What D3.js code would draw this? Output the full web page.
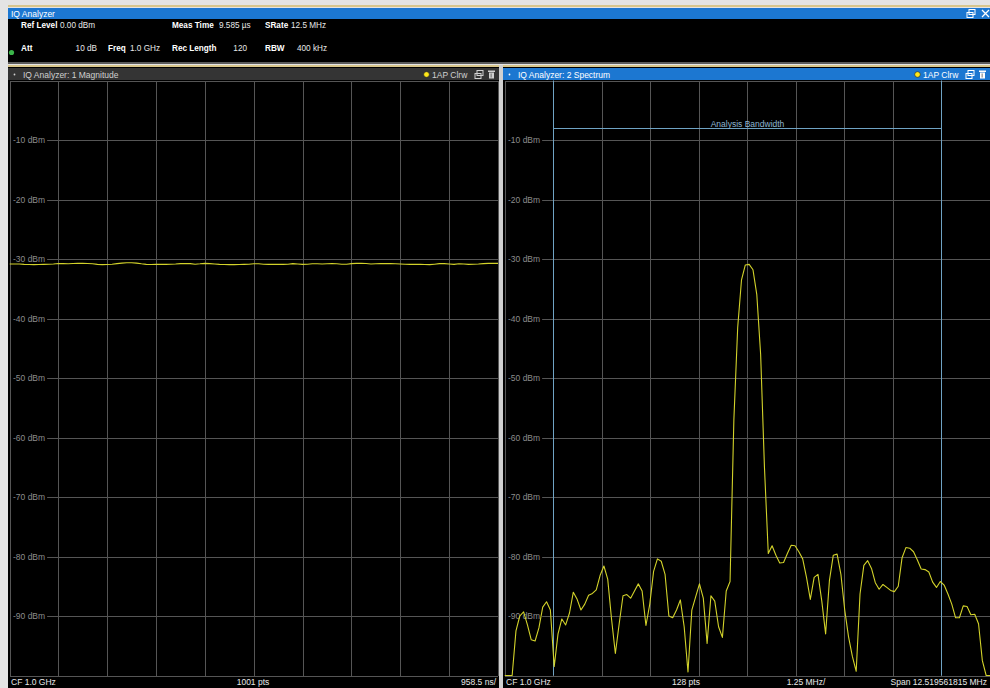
<!DOCTYPE html>
<html>
<head>
<meta charset="utf-8">
<script src="https://cdn.jsdelivr.net/npm/d3@7/dist/d3.min.js"></script>
<style>
  html, body { margin: 0; padding: 0; background: #000; }
  svg { display: block; font-family: "Liberation Sans", Arial, sans-serif; }
</style>
</head>
<body>
<svg id="chart" width="990" height="688"></svg>
<script>
// ---- Measurement settings shown in the header ----
const headerTitle = "IQ Analyzer";
const headerRow1 = [["Ref Level", "0.00 dBm"], ["Meas Time", "9.585 µs"], ["SRate", "12.5 MHz"]];
const headerRow2 = [["Att", "10 dB"], ["Freq", "1.0 GHz"], ["Rec Length", "120"], ["RBW", "400 kHz"]];

// ---- Window titles and footers ----
const magTitle = "IQ Analyzer: 1 Magnitude";
const specTitle = "IQ Analyzer: 2 Spectrum";
const traceTag = "1AP Clrw";
const magFooter = ["CF 1.0 GHz", "1001 pts", "958.5 ns/"];
const specFooter = ["CF 1.0 GHz", "128 pts", "1.25 MHz/", "Span 12.519561815 MHz"];
const bandwidthLabel = "Analysis Bandwidth";

// ---- Axes ----
const refLevel = 0;            // dBm, top of the display
const levelRange = 100;        // dB shown over 10 divisions
const levelTicks = [-10, -20, -30, -40, -50, -60, -70, -80, -90];
const levelTickLabels = ["-10 dBm", "-20 dBm", "-30 dBm", "-40 dBm", "-50 dBm", "-60 dBm", "-70 dBm", "-80 dBm", "-90 dBm"];
const timePerDiv = 0.9585;     // µs
const divisions = 10;
const spanMHz = 12.519561815;
const analysisBandwidthMHz = 10;

// ---- Trace 1: magnitude vs time (dBm), sampled along the record ----
const magnitudeDbm = [
  -30.84, -30.84, -30.84, -30.90, -30.92, -30.95, -30.92, -30.90, -30.87, -30.84,
  -30.76, -30.78, -30.81, -30.76, -30.73, -30.73, -30.76, -30.81, -30.90, -30.95,
  -30.92, -30.87, -30.78, -30.70, -30.64, -30.62, -30.70, -30.81, -30.90, -30.92,
  -30.87, -30.90, -30.90, -30.87, -30.84, -30.78, -30.78, -30.78, -30.87, -30.81,
  -30.73, -30.78, -30.84, -30.90, -30.92, -30.95, -30.95, -30.92, -30.90, -30.87,
  -30.81, -30.81, -30.87, -30.90, -30.90, -30.90, -30.90, -30.87, -30.78, -30.84,
  -30.90, -30.87, -30.81, -30.81, -30.84, -30.81, -30.78, -30.81, -30.87, -30.87,
  -30.78, -30.73, -30.73, -30.76, -30.84, -30.81, -30.78, -30.78, -30.78, -30.81,
  -30.84, -30.87, -30.90, -30.90, -30.90, -30.92, -30.95, -30.87, -30.78, -30.78,
  -30.84, -30.90, -30.81, -30.84, -30.90, -30.87, -30.84, -30.78, -30.73, -30.73,
  -30.73
];

// ---- Trace 2: spectrum, 128 points across the span (dBm) ----
const spectrumDbm = [
  -110, -110, -107, -92.5, -90.0, -89.3, -91.5, -94.0, -94.2, -92.0,
  -88.5, -87.6, -89.0, -98.5, -93.0, -90.5, -91.5, -89.5, -86.0, -87.2,
  -89.0, -88.0, -86.5, -86.2, -85.6, -83.2, -81.6, -83.8, -90.5, -96.3,
  -91.3, -86.6, -86.4, -87.0, -85.8, -84.6, -85.8, -91.6, -88.0, -82.5,
  -80.4, -80.8, -83.0, -90.0, -90.3, -89.0, -87.3, -91.8, -99.4, -89.0,
  -86.8, -84.6, -87.0, -94.6, -86.6, -87.5, -91.8, -93.6, -85.8, -84.2,
  -57.0, -41.5, -33.5, -31.0, -30.9, -31.8, -36.0, -46.0, -65.0, -79.5,
  -78.2, -79.8, -81.1, -81.0, -79.5, -78.1, -78.2, -79.2, -80.4, -83.5,
  -87.2, -83.5, -83.0, -87.5, -93.0, -84.0, -79.8, -79.6, -83.0, -89.0,
  -93.5, -96.8, -99.3, -86.3, -81.5, -80.7, -82.0, -84.4, -85.5, -84.7,
  -85.2, -85.7, -85.9, -85.0, -80.2, -78.5, -78.6, -79.2, -80.6, -82.1,
  -82.2, -82.6, -84.3, -85.2, -84.2, -84.8, -86.3, -88.0, -90.3, -90.3,
  -88.3, -88.4, -89.8, -89.7, -91.3, -97.5, -107, -110
];

// ---------------------------------------------------------------------------
const svg = d3.select("#chart");
const W = 990, H = 688;

const C = {
  blue: "#1c77d1",
  beige: "#d8c68c",
  frame: "#e4e4e4",
  titleGrey: "#343434",
  grid: "#555555",
  label: "#8c8c8c",
  text: "#e8e8e8",
  trace: "#d2d22a",
  bw: "#6fa3c4",
  bwText: "#8fb6d2"
};

// Window chrome
svg.append("rect").attr("width", W).attr("height", H).attr("fill", "#000");
svg.append("rect").attr("x", 0).attr("y", 0).attr("width", W).attr("height", 5).attr("fill", C.frame);
svg.append("rect").attr("x", 0).attr("y", 0).attr("width", 8).attr("height", H).attr("fill", C.frame);
svg.append("rect").attr("x", 8).attr("y", 5).attr("width", W - 8).attr("height", 2).attr("fill", C.beige);
svg.append("rect").attr("x", 8).attr("y", 7).attr("width", W - 8).attr("height", 1).attr("fill", C.frame);
svg.append("rect").attr("x", 8).attr("y", 8).attr("width", W - 8).attr("height", 11).attr("fill", C.blue);
svg.append("text").attr("x", 11).attr("y", 17).attr("font-size", 8.5).attr("fill", "#fff").text(headerTitle);

// restore / close icons in the header bar
function restoreIcon(g, x, y, color) {
  g.append("rect").attr("x", x + 2).attr("y", y).attr("width", 6).attr("height", 5)
    .attr("fill", "none").attr("stroke", color).attr("stroke-width", 1);
  g.append("rect").attr("x", x).attr("y", y + 3).attr("width", 6).attr("height", 5)
    .attr("fill", C.blue === color ? "none" : "none").attr("stroke", color).attr("stroke-width", 1);
}
function trashIcon(g, x, y, color) {
  g.append("rect").attr("x", x).attr("y", y).attr("width", 7).attr("height", 1.5).attr("fill", color);
  g.append("rect").attr("x", x + 1).attr("y", y + 2).attr("width", 5).attr("height", 6).attr("fill", color);
  g.append("rect").attr("x", x + 2.7).attr("y", y + 3).attr("width", 0.8).attr("height", 4).attr("fill", "#555");
}
const chrome = svg.append("g");
restoreIcon(chrome, 967, 9.5, "#fff");
chrome.append("path").attr("d", "M982,10 L989,17 M989,10 L982,17").attr("stroke", "#fff").attr("stroke-width", 1.3);

// Header settings
const hdr = svg.append("g").attr("font-size", 8.2).attr("fill", C.text);
function hdrItem(label, value, lx, vx, y, anchorEnd) {
  hdr.append("text").attr("x", lx).attr("y", y).attr("font-weight", "bold").attr("fill", "#fff").text(label);
  hdr.append("text").attr("x", vx).attr("y", y).attr("text-anchor", anchorEnd ? "end" : "start").text(value);
}
const row1Pos = [[21, 60, false], [172, 219, false], [265, 291, false]];
const row2Pos = [[21, 97, true], [108, 130, false], [172, 247, true], [265, 297, false]];
headerRow1.forEach((d, i) => hdrItem(d[0], d[1], row1Pos[i][0], row1Pos[i][1], 28, row1Pos[i][2]));
headerRow2.forEach((d, i) => hdrItem(d[0], d[1], row2Pos[i][0], row2Pos[i][1], 51, row2Pos[i][2]));
svg.append("circle").attr("cx", 11.5).attr("cy", 52.5).attr("r", 2.6).attr("fill", "#3bb54a");

// Separator between header and the two windows
svg.append("rect").attr("x", 8).attr("y", 62).attr("width", W - 8).attr("height", 2).attr("fill", "#5a5a5a");
svg.append("rect").attr("x", 8).attr("y", 64).attr("width", W - 8).attr("height", 1).attr("fill", C.frame);
svg.append("rect").attr("x", 8).attr("y", 65).attr("width", W - 8).attr("height", 2).attr("fill", C.beige);
svg.append("rect").attr("x", 499).attr("y", 65).attr("width", 4).attr("height", H - 65).attr("fill", "#d0d0d0");

// ---------------------------------------------------------------------------
// One measurement window: title bar, graticule, level labels, trace, footer
function drawWindow(opt) {
  const g = svg.append("g");
  const { x0, x1 } = opt;
  const top = 80.5, bottom = 675.5;

  // title bar
  g.append("rect").attr("x", opt.barX).attr("y", 68).attr("width", opt.barW).attr("height", 12)
    .attr("fill", opt.active ? C.blue : C.titleGrey);
  const titleColor = opt.active ? "#fff" : "#d0d0d0";
  g.append("circle").attr("cx", opt.barX + 6.5).attr("cy", 74.5).attr("r", 0.9).attr("fill", titleColor);
  g.append("text").attr("x", opt.barX + 15).attr("y", 77.5).attr("font-size", 8.5).attr("fill", titleColor).text(opt.title);
  const rx = opt.barX + opt.barW;
  g.append("circle").attr("cx", rx - 72.5).attr("cy", 74.5).attr("r", 2.8)
    .attr("fill", "#ffe81a").attr("stroke", "#222").attr("stroke-width", 0.6);
  g.append("text").attr("x", rx - 67).attr("y", 77.5).attr("font-size", 8.5).attr("fill", titleColor).text(traceTag);
  restoreIcon(g, rx - 24, 70.5, titleColor);
  trashIcon(g, rx - 11, 70.5, titleColor);

  // scales
  const x = d3.scaleLinear().domain(opt.xDomain).range([x0, x1]);
  const y = d3.scaleLinear().domain([refLevel - levelRange, refLevel]).range([bottom, top]).clamp(true);

  // graticule: vertical divisions
  const xDivs = d3.range(divisions + 1).map(i => opt.xDomain[0] + i * (opt.xDomain[1] - opt.xDomain[0]) / divisions);
  const gx = g.append("g").attr("transform", `translate(0,${bottom})`)
    .call(d3.axisBottom(x).tickValues(xDivs).tickSize(-(bottom - top)).tickFormat(""));
  gx.select(".domain").remove();
  gx.selectAll("line").attr("stroke", C.grid).attr("stroke-width", 1).attr("shape-rendering", "crispEdges");

  // graticule: horizontal levels (including frame top/bottom)
  const gy = g.append("g").attr("transform", `translate(${x0},0)`)
    .call(d3.axisLeft(y).tickValues(d3.range(0, -101, -10)).tickSize(-(x1 - x0)).tickFormat(""));
  gy.select(".domain").remove();
  gy.selectAll("line").attr("stroke", C.grid).attr("stroke-width", 1).attr("shape-rendering", "crispEdges");

  // level labels sit on their gridlines
  const lab = g.append("g").attr("font-size", 8.5).attr("fill", C.label);
  levelTicks.forEach((v, i) => {
    const t = lab.append("text").attr("x", x0 + 3.5).attr("y", y(v) + 3).text(levelTickLabels[i]);
    const w = t.node().getComputedTextLength();
    lab.insert("rect", "text").attr("x", x0 + 1.5).attr("y", y(v) - 4).attr("width", w + 4).attr("height", 8).attr("fill", "#000");
  });

  if (opt.extra) opt.extra(g, x, y, top, bottom);

  // trace
  const clipId = "clip" + opt.id;
  g.append("clipPath").attr("id", clipId).append("rect")
    .attr("x", x0).attr("y", top - 1).attr("width", x1 - x0 + 1).attr("height", bottom - top + 2);
  const n = opt.data.length;
  const line = d3.line()
    .x((d, i) => x(opt.xDomain[0] + i * (opt.xDomain[1] - opt.xDomain[0]) / (n - 1)))
    .y(d => y(d));
  g.append("path").datum(opt.data).attr("d", line).attr("fill", "none")
    .attr("stroke", C.trace).attr("stroke-width", 1.1).attr("stroke-linejoin", "round")
    .attr("clip-path", `url(#${clipId})`);

  // footer
  const ft = g.append("g").attr("font-size", 8.5).attr("fill", C.text);
  opt.footer.forEach((s, i) => {
    const p = opt.footerPos[i];
    ft.append("text").attr("x", p[0]).attr("y", 685).attr("text-anchor", p[1]).text(s);
  });
}

drawWindow({
  id: 1, title: magTitle, active: false,
  barX: 8, barW: 491, x0: 9.5, x1: 498,
  xDomain: [0, timePerDiv * divisions],
  data: magnitudeDbm,
  footer: magFooter,
  footerPos: [[11, "start"], [253, "middle"], [496, "end"]]
});

drawWindow({
  id: 2, title: specTitle, active: true,
  barX: 503, barW: 487, x0: 504.5, x1: 990,
  xDomain: [-spanMHz / 2, spanMHz / 2],
  data: spectrumDbm,
  footer: specFooter,
  footerPos: [[506, "start"], [686, "middle"], [806, "middle"], [987, "end"]],
  extra: (g, x, y, top, bottom) => {
    const xl = Math.round(x(-analysisBandwidthMHz / 2)) + 0.5;
    const xr = Math.round(x(analysisBandwidthMHz / 2)) + 0.5;
    g.append("line").attr("x1", xl).attr("x2", xl).attr("y1", top).attr("y2", bottom).attr("stroke", C.bw);
    g.append("line").attr("x1", xr).attr("x2", xr).attr("y1", top).attr("y2", bottom).attr("stroke", C.bw);
    g.append("line").attr("x1", xl).attr("x2", xr).attr("y1", 128.5).attr("y2", 128.5).attr("stroke", C.bw);
    g.append("text").attr("x", (xl + xr) / 2).attr("y", 126.5).attr("text-anchor", "middle")
      .attr("font-size", 8.5).attr("fill", C.bwText).text(bandwidthLabel);
  }
});
</script>
</body>
</html>
